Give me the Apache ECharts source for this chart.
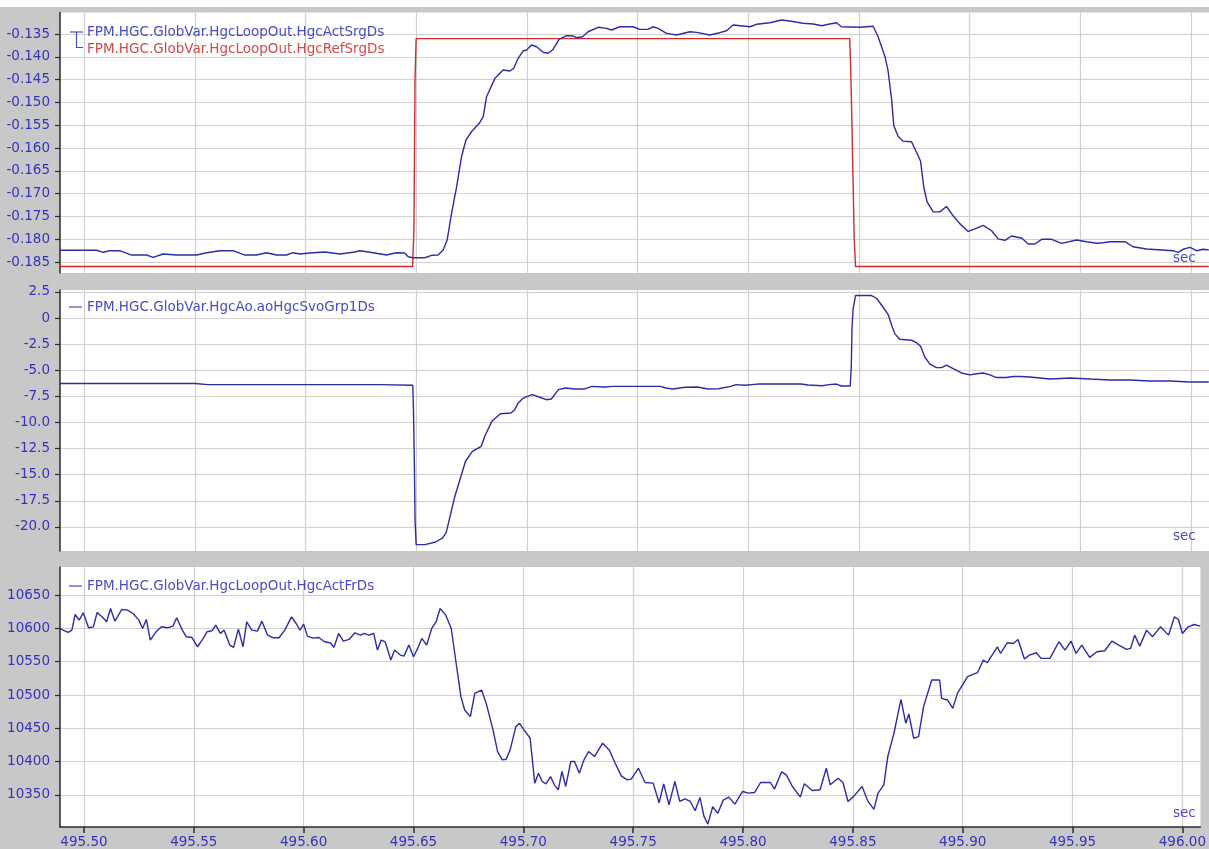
<!DOCTYPE html>
<html>
<head>
<meta charset="utf-8">
<title>HGC loop trace</title>
<script src="https://cdn.jsdelivr.net/npm/echarts@6/dist/echarts.min.js"></script>
<style>
  html, body { margin: 0; padding: 0; background: #c8c8c8; }
  #chart { width: 1209px; height: 849px; }
</style>
</head>
<body>
<div id="chart"></div>
<script>
// ---- time axis (seconds) ----
const timeMin = 495.4891;
const timeMax = 496.0082;
const timeTicks = [495.50, 495.55, 495.60, 495.65, 495.70, 495.75, 495.80, 495.85, 495.90, 495.95, 496.00];

// ---- y tick values ----
const srgTicks = [-0.135, -0.140, -0.145, -0.150, -0.155, -0.160, -0.165, -0.170, -0.175, -0.180, -0.185];
const svoTicks = [2.5, 0, -2.5, -5, -7.5, -10, -12.5, -15, -17.5, -20];
const frTicks = [10650, 10600, 10550, 10500, 10450, 10400, 10350];

// ---- series names ----
const nameAct = 'FPM.HGC.GlobVar.HgcLoopOut.HgcActSrgDs';
const nameRef = 'FPM.HGC.GlobVar.HgcLoopOut.HgcRefSrgDs';
const nameSvo = 'FPM.HGC.GlobVar.HgcAo.aoHgcSvoGrp1Ds';
const nameFr = 'FPM.HGC.GlobVar.HgcLoopOut.HgcActFrDs';

// ---- HgcActSrgDs ----
const srgActTime = [
  495.4890, 495.5056, 495.5086, 495.5116, 495.5161, 495.5214, 495.5282, 495.5312, 495.5357, 495.5417,
  495.5508, 495.5553, 495.5613, 495.5673, 495.5726, 495.5779, 495.5824, 495.5869, 495.5914, 495.5944,
  495.5975, 495.6020, 495.6087, 495.6155, 495.6223, 495.6246, 495.6306, 495.6366, 495.6411, 495.6449,
  495.6464, 495.6486, 495.6539, 495.6570, 495.6599, 495.6622, 495.6640, 495.6660, 495.6683, 495.6705,
  495.6725, 495.6750, 495.6785, 495.6803, 495.6818, 495.6856, 495.6893, 495.6923, 495.6941, 495.6961,
  495.6983, 495.6999, 495.7021, 495.7044, 495.7074, 495.7096, 495.7116, 495.7146, 495.7179, 495.7209,
  495.7225, 495.7252, 495.7277, 495.7322, 495.7360, 495.7383, 495.7420, 495.7480, 495.7511, 495.7548,
  495.7571, 495.7593, 495.7631, 495.7676, 495.7737, 495.7767, 495.7827, 495.7872, 495.7902, 495.7932,
  495.7977, 495.8008, 495.8038, 495.8098, 495.8151, 495.8188, 495.8248, 495.8294, 495.8332, 495.8369,
  495.8399, 495.8422, 495.8505, 495.8565, 495.8587, 495.8618, 495.8632, 495.8648, 495.8658, 495.8678,
  495.8700, 495.8738, 495.8761, 495.8779, 495.8794, 495.8809, 495.8836, 495.8866, 495.8896, 495.8926,
  495.8956, 495.8994, 495.9024, 495.9062, 495.9100, 495.9129, 495.9160, 495.9190, 495.9237, 495.9265,
  495.9295, 495.9326, 495.9371, 495.9416, 495.9484, 495.9529, 495.9574, 495.9604, 495.9634, 495.9702,
  495.9739, 495.9800, 495.9920, 495.9943, 495.9965, 495.9996, 496.0026, 496.0056, 496.0081
];
const srgActVal = [
  -0.18243, -0.18243, -0.18287, -0.18252, -0.18252, -0.18347, -0.18347, -0.18397, -0.18325, -0.18347,
  -0.18347, -0.18296, -0.18252, -0.18252, -0.18347, -0.18347, -0.18296, -0.18347, -0.18347, -0.18296,
  -0.18325, -0.18303, -0.18281, -0.18325, -0.18281, -0.18252, -0.18296, -0.18347, -0.18296, -0.18303,
  -0.18384, -0.18406, -0.18406, -0.18353, -0.18347, -0.18237, -0.18018, -0.17432, -0.16849, -0.16191,
  -0.15825, -0.15643, -0.15458, -0.15314, -0.14875, -0.14472, -0.14289, -0.14311, -0.14252, -0.14033,
  -0.13873, -0.13851, -0.13741, -0.13779, -0.13901, -0.13923, -0.13851, -0.13616, -0.13537, -0.13544,
  -0.13581, -0.13559, -0.13450, -0.13353, -0.13375, -0.13412, -0.13340, -0.13340, -0.13397, -0.13397,
  -0.13340, -0.13375, -0.13485, -0.13522, -0.13450, -0.13463, -0.13522, -0.13471, -0.13428, -0.13303,
  -0.13325, -0.13340, -0.13287, -0.13252, -0.13193, -0.13215, -0.13265, -0.13281, -0.13318, -0.13281,
  -0.13252, -0.13340, -0.13353, -0.13329, -0.13561, -0.13991, -0.14303, -0.14928, -0.15513, -0.15746,
  -0.15849, -0.15864, -0.16097, -0.16292, -0.16877, -0.17189, -0.17401, -0.17401, -0.17283, -0.17487,
  -0.17658, -0.17829, -0.17774, -0.17697, -0.17814, -0.17993, -0.18024, -0.17930, -0.17980, -0.18105,
  -0.18105, -0.18002, -0.18002, -0.18090, -0.18018, -0.18055, -0.18090, -0.18077, -0.18055, -0.18055,
  -0.18165, -0.18215, -0.18252, -0.18287, -0.18221, -0.18178, -0.18252, -0.18221, -0.18237
];

// ---- HgcRefSrgDs (step reference) ----
const srgRefTime = [495.4890, 495.6484, 495.6490, 495.6495, 495.6500, 495.8459, 495.8463, 495.8469, 495.8474, 495.8479, 495.8485, 496.0081];
const srgRefVal = [-0.186, -0.186, -0.178, -0.145, -0.136, -0.136, -0.1422, -0.155, -0.1674, -0.1798, -0.186, -0.186];

// ---- aoHgcSvoGrp1Ds ----
const svoTime = [
  495.4890, 495.5500, 495.5560, 495.6334, 495.6485, 495.6488, 495.6492, 495.6495, 495.6500, 495.6540,
  495.6588, 495.6620, 495.6636, 495.6675, 495.6723, 495.6754, 495.6794, 495.6810, 495.6842, 495.6881,
  495.6929, 495.6945, 495.6961, 495.6984, 495.7024, 495.7056, 495.7088, 495.7111, 495.7143, 495.7175,
  495.7215, 495.7262, 495.7294, 495.7350, 495.7390, 495.7604, 495.7628, 495.7659, 495.7715, 495.7770,
  495.7818, 495.7866, 495.7921, 495.7945, 495.7985, 495.8017, 495.8048, 495.8239, 495.8271, 495.8334,
  495.8366, 495.8398, 495.8421, 495.8461, 495.8466, 495.8469, 495.8474, 495.8485, 495.8557, 495.8580,
  495.8610, 495.8632, 495.8648, 495.8663, 495.8685, 495.8738, 495.8761, 495.8779, 495.8798, 495.8821,
  495.8851, 495.8874, 495.8896, 495.8926, 495.8964, 495.9002, 495.9032, 495.9062, 495.9092, 495.9122,
  495.9167, 495.9197, 495.9228, 495.9273, 495.9363, 495.9454, 495.9544, 495.9634, 495.9724, 495.9815,
  495.9905, 495.9996, 496.0081
];
const svoVal = [
  -6.27, -6.27, -6.38, -6.38, -6.44, -8.93, -13.88, -19.30, -21.69, -21.69,
  -21.44, -21.05, -20.51, -17.06, -13.71, -12.76, -12.28, -11.32, -9.89, -9.16,
  -9.09, -8.78, -8.13, -7.66, -7.34, -7.56, -7.82, -7.75, -6.86, -6.70,
  -6.79, -6.79, -6.54, -6.60, -6.54, -6.54, -6.70, -6.79, -6.63, -6.60,
  -6.79, -6.77, -6.54, -6.38, -6.44, -6.38, -6.32, -6.32, -6.41, -6.48,
  -6.38, -6.32, -6.51, -6.51, -4.62, -1.12, 0.86, 2.15, 2.15, 1.89,
  1.03, 0.35, -0.67, -1.52, -2.03, -2.13, -2.36, -2.71, -3.73, -4.41,
  -4.75, -4.75, -4.52, -4.85, -5.26, -5.44, -5.33, -5.26, -5.44, -5.70,
  -5.70, -5.60, -5.60, -5.65, -5.84, -5.74, -5.84, -5.93, -5.93, -6.03,
  -6.03, -6.12, -6.12
];

// ---- HgcActFrDs ----
const frTime = [
  495.4890, 495.4905, 495.4928, 495.4945, 495.4960, 495.4978, 495.4997, 495.5021, 495.5043, 495.5060,
  495.5086, 495.5103, 495.5121, 495.5141, 495.5172, 495.5198, 495.5224, 495.5250, 495.5267, 495.5284,
  495.5302, 495.5328, 495.5353, 495.5379, 495.5405, 495.5422, 495.5448, 495.5466, 495.5491, 495.5517,
  495.5543, 495.5560, 495.5583, 495.5600, 495.5621, 495.5638, 495.5664, 495.5681, 495.5703, 495.5724,
  495.5741, 495.5764, 495.5790, 495.5810, 495.5836, 495.5862, 495.5888, 495.5914, 495.5945, 495.5966,
  495.5983, 495.6000, 495.6017, 495.6043, 495.6069, 495.6095, 495.6121, 495.6138, 495.6159, 495.6181,
  495.6207, 495.6233, 495.6259, 495.6276, 495.6297, 495.6319, 495.6336, 495.6353, 495.6371, 495.6397,
  495.6414, 495.6440, 495.6457, 495.6479, 495.6500, 495.6517, 495.6538, 495.6560, 495.6583, 495.6603,
  495.6621, 495.6647, 495.6672, 495.6690, 495.6716, 495.6733, 495.6759, 495.6779, 495.6810, 495.6831,
  495.6862, 495.6883, 495.6905, 495.6922, 495.6940, 495.6966, 495.6983, 495.7003, 495.7031, 495.7052,
  495.7069, 495.7086, 495.7103, 495.7124, 495.7141, 495.7159, 495.7176, 495.7193, 495.7216, 495.7233,
  495.7255, 495.7276, 495.7297, 495.7324, 495.7361, 495.7391, 495.7418, 495.7446, 495.7473, 495.7491,
  495.7524, 495.7554, 495.7591, 495.7618, 495.7639, 495.7663, 495.7690, 495.7712, 495.7736, 495.7760,
  495.7782, 495.7804, 495.7822, 495.7840, 495.7862, 495.7885, 495.7910, 495.7935, 495.7963, 495.7998,
  495.8025, 495.8053, 495.8080, 495.8125, 495.8143, 495.8176, 495.8197, 495.8225, 495.8261, 495.8279,
  495.8315, 495.8351, 495.8379, 495.8397, 495.8433, 495.8455, 495.8478, 495.8505, 495.8542, 495.8569,
  495.8596, 495.8614, 495.8641, 495.8659, 495.8687, 495.8719, 495.8741, 495.8755, 495.8777, 495.8799,
  495.8822, 495.8859, 495.8895, 495.8904, 495.8931, 495.8955, 495.8976, 495.9022, 495.9067, 495.9094,
  495.9112, 495.9158, 495.9172, 495.9203, 495.9230, 495.9252, 495.9281, 495.9303, 495.9335, 495.9357,
  495.9397, 495.9438, 495.9466, 495.9493, 495.9516, 495.9542, 495.9578, 495.9611, 495.9647, 495.9679,
  495.9710, 495.9746, 495.9764, 495.9783, 495.9806, 495.9837, 495.9864, 495.9900, 495.9937, 495.9964,
  495.9982, 496.0000, 496.0027, 496.0054, 496.0081
];
const frVal = [
  10600, 10597.5, 10594, 10597.5, 10621, 10612.5, 10623.5, 10601, 10602.5, 10624,
  10616.5, 10610, 10630, 10611, 10628.5, 10627.5, 10622.5, 10612.5, 10600, 10613.5,
  10582.5, 10595, 10602.5, 10601, 10603.5, 10616, 10597.5, 10587.5, 10586.5, 10572.5,
  10585, 10595, 10596.5, 10605, 10592.5, 10597.5, 10575, 10571.5, 10599, 10572.5,
  10610, 10597.5, 10596, 10611, 10590, 10586, 10586, 10597.5, 10617.5, 10607.5,
  10597.5, 10606.5, 10588.5, 10585.5, 10586.5, 10580, 10578.5, 10571.5, 10592.5, 10581,
  10583.5, 10593.5, 10590, 10592.5, 10590, 10592.5, 10567.5, 10582.5, 10580, 10552.5,
  10567.5, 10560, 10558.5, 10575, 10557.5, 10568.5, 10585, 10575, 10600, 10610,
  10630, 10620, 10600, 10557.5, 10497.5, 10477.5, 10467.5, 10502.5, 10507.5, 10487.5,
  10447.5, 10415, 10402.5, 10403.5, 10417.5, 10452.5, 10457.5, 10447.5, 10435, 10367.5,
  10382.5, 10370, 10366.5, 10377.5, 10365, 10357.5, 10385, 10362.5, 10400, 10400,
  10382.5, 10402.5, 10415, 10407.5, 10427.5, 10417.5, 10397.5, 10378.5, 10372.5, 10373.5,
  10390, 10368.5, 10367.5, 10338, 10366.5, 10335, 10370, 10340, 10344, 10340,
  10326, 10346, 10318, 10306, 10332, 10322, 10342, 10346.5, 10336, 10355,
  10352.5, 10353.5, 10368.5, 10368.5, 10358.5, 10384.5, 10380, 10362.5, 10346.5, 10366.5,
  10356.5, 10357.5, 10390, 10365, 10375, 10368.5, 10340, 10348, 10362.5, 10340,
  10328, 10352, 10365, 10407.5, 10442.5, 10493.5, 10457.5, 10471.5, 10435, 10437.5,
  10482.5, 10522.5, 10522.5, 10495, 10492.5, 10480, 10502.5, 10527.5, 10533.5, 10552.5,
  10548.5, 10572.5, 10562.5, 10578.5, 10577.5, 10583.5, 10554, 10560, 10563.5, 10555,
  10555, 10580, 10567.5, 10581, 10562.5, 10575, 10556.5, 10565, 10566.5, 10581,
  10575, 10568.5, 10570, 10590, 10573.5, 10597.5, 10587.5, 10602.5, 10590, 10617.5,
  10613.5, 10592.5, 10602.5, 10606, 10603.5
];

// ---- styling ----
const FONT = 'DejaVu Sans';
const LABEL_COLOR = '#3434bd';
const LINE_BLUE = '#2c2ca8';
const LINE_RED = '#d42a2a';
const TEXT_BLUE = '#4b4bc6';
const TEXT_RED = '#d64848';
const GRID_COLOR = '#d0d0d0';
const AXIS_DARK = '#2a2a2a';

const zip = (ts, vs) => ts.map((t, i) => [t, vs[i]]);

const panels = [
  { top: 12.5, height: 260.5, min: -0.18741, max: -0.13028, ticks: srgTicks, fmt: v => v.toFixed(3) },
  { top: 290, height: 261, min: -22.30, max: 2.68, ticks: svoTicks, fmt: v => (v === 0 ? '0' : v.toFixed(1)) },
  { top: 567, height: 261, min: 10301.6, max: 10692.4, ticks: frTicks, fmt: v => String(v) }
];

const grids = panels.map(p => ({
  left: 60, right: 0, top: p.top, height: p.height,
  show: true, backgroundColor: '#ffffff', borderWidth: 0, containLabel: false
}));

const xAxes = panels.map((p, i) => {
  const isBottom = i === panels.length - 1;
  return {
    type: 'value', gridIndex: i, min: timeMin, max: timeMax, position: 'bottom',
    axisLine: { show: isBottom, onZero: false, lineStyle: { color: AXIS_DARK, width: 1.5 } },
    axisTick: { show: isBottom, length: 6, customValues: timeTicks, lineStyle: { color: AXIS_DARK, width: 1.5 } },
    axisLabel: {
      show: isBottom, customValues: timeTicks, margin: 8,
      color: LABEL_COLOR, fontFamily: FONT, fontSize: 13.5,
      formatter: v => v.toFixed(2)
    },
    splitLine: { show: true, lineStyle: { color: GRID_COLOR, width: 1.2 } }
  };
});

const yAxes = panels.map((p, i) => ({
  type: 'value', gridIndex: i, min: p.min, max: p.max, position: 'left',
  axisLine: { show: true, onZero: false, lineStyle: { color: AXIS_DARK, width: 1.5 } },
  axisTick: { show: true, length: 5, customValues: p.ticks, lineStyle: { color: AXIS_DARK, width: 1.2 } },
  axisLabel: {
    show: true, customValues: p.ticks, margin: 10,
    color: LABEL_COLOR, fontFamily: FONT, fontSize: 13.5,
    formatter: p.fmt
  },
  splitLine: { show: true, lineStyle: { color: GRID_COLOR, width: 1.2 } }
}));

const lineSeries = (name, data, idx, color) => ({
  name, type: 'line', xAxisIndex: idx, yAxisIndex: idx, data,
  showSymbol: false, symbol: 'none', smooth: false,
  lineStyle: { color, width: 1.4 }, itemStyle: { color },
  emphasis: { disabled: true }, z: 3
});

const series = [
  lineSeries(nameRef, zip(srgRefTime, srgRefVal), 0, LINE_RED),
  lineSeries(nameAct, zip(srgActTime, srgActVal), 0, LINE_BLUE),
  lineSeries(nameSvo, zip(svoTime, svoVal), 1, LINE_BLUE),
  lineSeries(nameFr, zip(frTime, frVal), 2, LINE_BLUE)
];

const txt = (x, y, text, fill) => ({
  type: 'text', x, y, z: 100,
  style: {
    text, fill, font: '13.5px "' + FONT + '"',
    align: 'left', verticalAlign: 'middle',
    textAlign: 'left', textVerticalAlign: 'middle'
  }
});
const seg = (points, stroke) => ({
  type: 'polyline', z: 100, shape: { points },
  style: { stroke, lineWidth: 1.2, fill: null }
});

const graphic = [
  { type: 'rect', z: 100, shape: { x: 0, y: 0, width: 1209, height: 7 }, style: { fill: '#ffffff' } },
  // legend of the surge panel: bracket joining the two traces
  seg([[70, 32], [83, 32]], TEXT_BLUE),
  seg([[76.5, 32], [76.5, 47.5], [83, 47.5]], TEXT_BLUE),
  txt(87, 32, nameAct, TEXT_BLUE),
  txt(87, 49, nameRef, TEXT_RED),
  // legend of the servo panel
  seg([[69, 307], [82, 307]], TEXT_BLUE),
  txt(87, 307, nameSvo, TEXT_BLUE),
  // legend of the force panel
  seg([[69, 586], [82, 586]], TEXT_BLUE),
  txt(87, 586, nameFr, TEXT_BLUE),
  // unit captions
  txt(1173, 258, 'sec', TEXT_BLUE),
  txt(1173, 536, 'sec', TEXT_BLUE),
  txt(1173, 813, 'sec', TEXT_BLUE)
];

const chart = echarts.init(document.getElementById('chart'), null, { renderer: 'canvas' });
chart.setOption({
  animation: false,
  backgroundColor: '#c8c8c8',
  grid: grids,
  xAxis: xAxes,
  yAxis: yAxes,
  series,
  graphic
});
</script>
</body>
</html>
